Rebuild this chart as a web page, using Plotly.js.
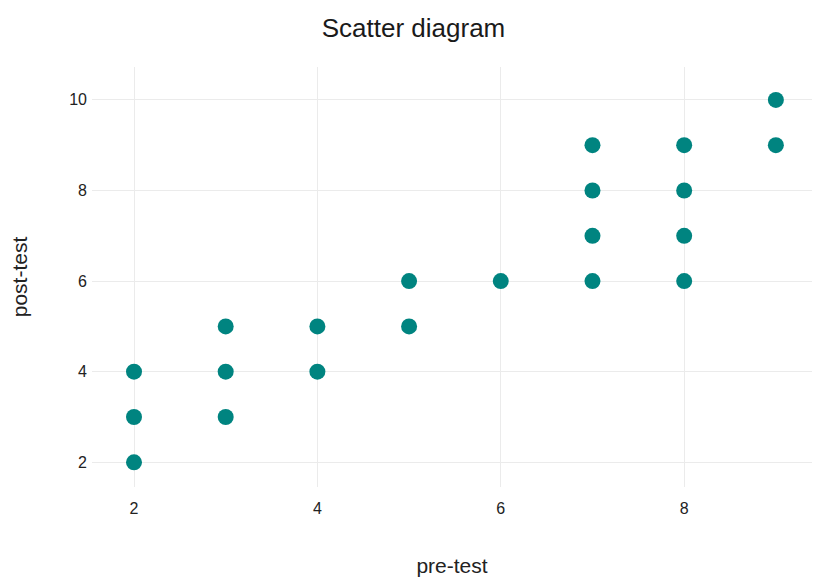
<!DOCTYPE html>
<html>
<head>
<meta charset="utf-8">
<script src="https://cdn.plot.ly/plotly-3.0.1.min.js"></script>
<style>html,body{margin:0;padding:0;background:#fff;}#chart{width:814px;height:581px;}</style>
</head>
<body>
<div id="chart"></div>
<script>
var preTest  = [2, 2, 2, 3, 3, 3, 4, 4, 5, 5, 6, 7, 7, 7, 7, 8, 8, 8, 8, 9, 9];
var postTest = [4, 3, 2, 5, 4, 3, 5, 4, 6, 5, 6, 9, 8, 7, 6, 9, 8, 7, 6, 10, 9];
var xTicks = [2, 4, 6, 8];
var yTicks = [2, 4, 6, 8, 10];

var trace = {
  x: preTest,
  y: postTest,
  type: 'scatter',
  mode: 'markers',
  marker: {color: '#008480', size: 16, line: {width: 0}},
  hoverinfo: 'x+y'
};

var layout = {
  width: 814,
  height: 581,
  margin: {l: 92, r: 2, t: 67, b: 94},
  paper_bgcolor: '#ffffff',
  plot_bgcolor: '#ffffff',
  font: {family: 'Liberation Sans, Arial, sans-serif', color: '#222'},
  title: {text: 'Scatter diagram', x: 0.508, xanchor: 'center', y: 0.952, yanchor: 'middle',
          font: {size: 26, color: '#1a1a1a'}},
  xaxis: {
    range: [1.542, 9.394],
    tickvals: xTicks,
    ticktext: xTicks.map(String),
    showgrid: true, gridcolor: '#ebebeb', gridwidth: 1,
    zeroline: false, showline: false, ticks: '',
    ticklabelstandoff: 10,
    tickfont: {size: 16, color: '#222'},
    title: {text: 'pre-test', font: {size: 21, color: '#222'}, standoff: 42}
  },
  yaxis: {
    range: [1.455, 10.726],
    tickvals: yTicks,
    ticktext: yTicks.map(String),
    showgrid: true, gridcolor: '#ebebeb', gridwidth: 1,
    zeroline: false, showline: false, ticks: '',
    ticklabelstandoff: 4,
    tickfont: {size: 16, color: '#222'},
    title: {text: 'post-test', font: {size: 21, color: '#222'}, standoff: 35}
  },
  showlegend: false
};

Plotly.newPlot('chart', [trace], layout, {displayModeBar: false, staticPlot: true});
</script>
</body>
</html>
